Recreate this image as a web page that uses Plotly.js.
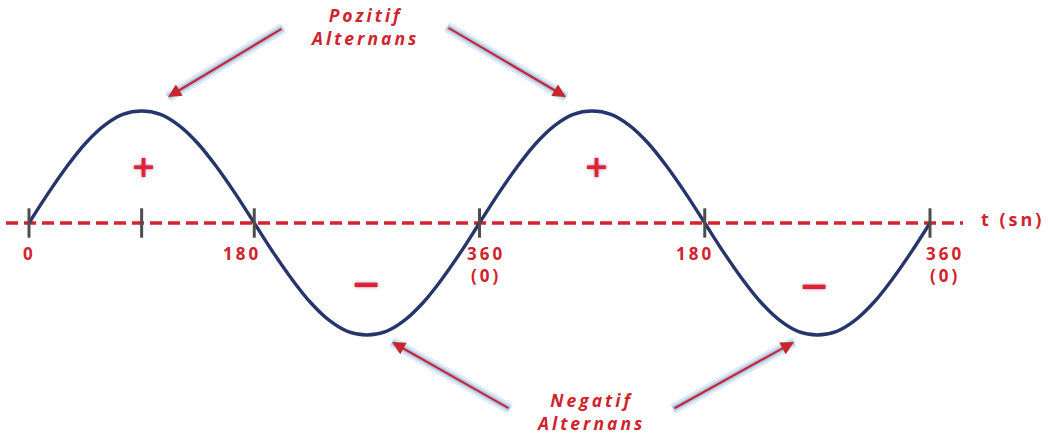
<!DOCTYPE html>
<html>
<head>
<meta charset="utf-8">
<script src="https://cdn.plot.ly/plotly-3.0.1.min.js"></script>
<style>
html,body{margin:0;padding:0;background:#fff;}
#chart{width:1048px;height:434px;}
.annotation-text{letter-spacing:3px;}
</style>
</head>
<body>
<div id="chart"></div>
<script>
// ---- data ----
var tDeg = [0,15,30,45,60,75,90,105,120,135,150,165,180,195,210,225,240,255,270,285,300,315,330,345,360,
            375,390,405,420,435,450,465,480,495,510,525,540,555,570,585,600,615,630,645,660,675,690,705,720];
var amp  = [0,0.26,0.5,0.71,0.87,0.97,1,0.97,0.87,0.71,0.5,0.26,0,-0.26,-0.5,-0.71,-0.87,-0.97,-1,-0.97,-0.87,-0.71,-0.5,-0.26,0,
            0.26,0.5,0.71,0.87,0.97,1,0.97,0.87,0.71,0.5,0.26,0,-0.26,-0.5,-0.71,-0.87,-0.97,-1,-0.97,-0.87,-0.71,-0.5,-0.26,0];
var tickDeg = [0,90,180,360,540,720];
var labelDeg = [0,180,360,540,720];
var labelText = ['0','180','360<br>(0)','180','360<br>(0)'];
var axisTitle = 't (sn)';
var signDeg = [90,270,450,630];
var signText = ['+','−','+','−'];
var calloutTop = 'Pozitif<br>Alternans';
var calloutBottom = 'Negatif<br>Alternans';

// ---- pixel helpers (layout geometry) ----
var W = 1048, H = 434;
var x0px = 29, x720px = 930, basePx = 223, ampPx = 112;
var pxPerDeg = (x720px - x0px) / 720;
function X(px){ return (px - x0px) / pxPerDeg; }
function Y(py){ return (basePx - py) / ampPx; }

var RED = '#d0232d';
var NAVY = '#28356d';

var traces = [
  {x: tDeg, y: amp, type: 'scatter', mode: 'lines',
   line: {color: NAVY, width: 3.4, shape: 'spline', smoothing: 1}, hoverinfo: 'skip'},
  {x: tickDeg, y: tickDeg.map(function(){return 0;}), type: 'scatter', mode: 'markers',
   marker: {symbol: 'line-ns', size: 21, line: {color: '#4d4d4d', width: 3}}, hoverinfo: 'skip'}
];

var shapes = [
  {type: 'line', xref: 'x', yref: 'y', x0: X(6), x1: X(963), y0: 0, y1: 0, layer: 'below',
   line: {color: RED, width: 3.5, dash: '12px,6px'}}
];

var annotations = [];
var labelShift = [0, -12, 6, -10, 15];
labelDeg.forEach(function(d, i){
  annotations.push({x: d, y: 0, xref: 'x', yref: 'y', text: labelText[i], showarrow: false,
    xanchor: 'center', yanchor: 'top', yshift: -17, xshift: labelShift[i],
    font: {family: 'Open Sans', size: 17, color: RED, weight: 'bold'}});
});
annotations.push({x: X(1012), y: Y(219), xref: 'x', yref: 'y', text: axisTitle, showarrow: false,
  font: {family: 'Open Sans', size: 18, color: RED, weight: 'bold'}});

var signPos = [[145,166],[367,283],[598,166],[815,285]];
signDeg.forEach(function(d, i){
  annotations.push({x: X(signPos[i][0]), y: Y(signPos[i][1]), xref: 'x', yref: 'y', text: signText[i], showarrow: false,
    font: {family: 'DejaVu Sans', size: i % 2 ? 36 : 30, color: '#e5202e', weight: 'bold', shadow: '0px 0px 3px #8a5fb0'}});
});

annotations.push({x: X(364), y: Y(26), xref: 'x', yref: 'y', text: calloutTop, showarrow: false,
  font: {family: 'Open Sans', size: 17.5, color: RED, weight: 'bold', style: 'italic'}});
annotations.push({x: X(590), y: Y(411), xref: 'x', yref: 'y', text: calloutBottom, showarrow: false,
  font: {family: 'Open Sans', size: 17.5, color: RED, weight: 'bold', style: 'italic'}});

// arrows: [tailPx, tailPy, headPx, headPy]
var arrows = [[283,28,168,97],[447,27,566,97],[510,409,392,342],[673,409,794,342]];
arrows.forEach(function(a){
  shapes.push({type: 'line', xref: 'x', yref: 'y', x0: X(a[0]), y0: Y(a[1]), x1: X(a[2]), y1: Y(a[3]),
    layer: 'above', line: {color: 'rgba(170,200,235,0.4)', width: 11}});
  shapes.push({type: 'line', xref: 'x', yref: 'y', x0: X(a[0]), y0: Y(a[1]), x1: X(a[2]), y1: Y(a[3]),
    layer: 'above', line: {color: 'rgba(150,185,225,0.6)', width: 6}});
  annotations.push({x: X(a[2]), y: Y(a[3]), ax: X(a[0]), ay: Y(a[1]), xref: 'x', yref: 'y', axref: 'x', ayref: 'y',
    text: '', showarrow: true, arrowhead: 2, arrowsize: 1.2, arrowwidth: 2.2, arrowcolor: '#c8262e', standoff: 0});
});

var layout = {
  width: W, height: H,
  margin: {l: 0, r: 0, t: 0, b: 0},
  paper_bgcolor: '#fff', plot_bgcolor: '#fff',
  showlegend: false,
  xaxis: {visible: false, range: [X(0), X(W)], fixedrange: true},
  yaxis: {visible: false, range: [Y(H), Y(0)], fixedrange: true},
  shapes: shapes,
  annotations: annotations
};

Plotly.newPlot('chart', traces, layout, {displayModeBar: false, staticPlot: true});
</script>
</body>
</html>
